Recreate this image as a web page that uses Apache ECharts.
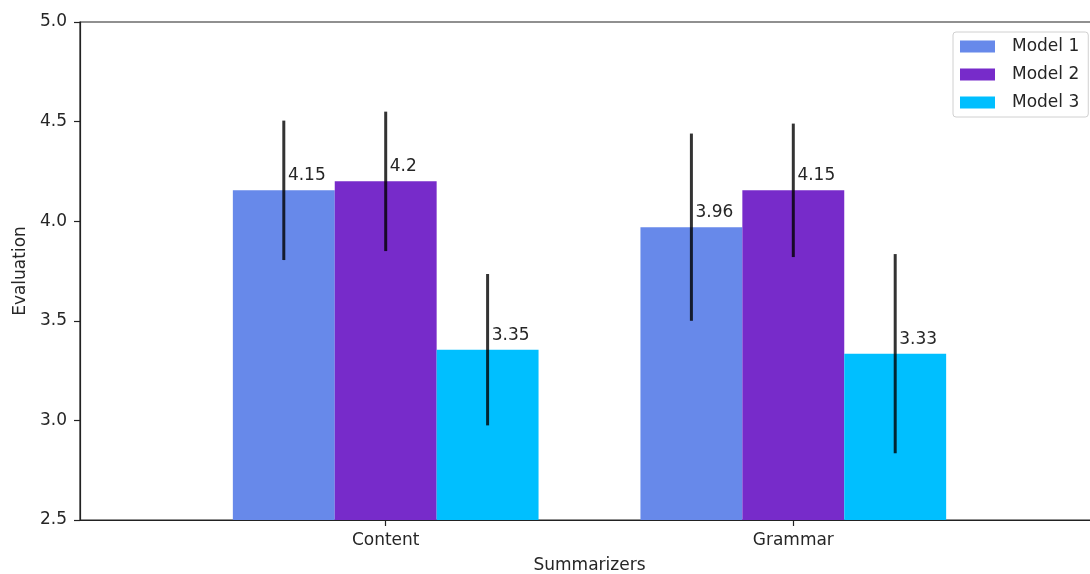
<!DOCTYPE html>
<html>
<head>
<meta charset="utf-8">
<script src="https://cdn.jsdelivr.net/npm/echarts@6/dist/echarts.min.js"></script>
<style>
html,body{margin:0;padding:0;background:#fff;}
#chart{width:1090px;height:574px;}
</style>
</head>
<body>
<div id="chart"></div>
<script>
// ---- data ----
const categories = ['Content', 'Grammar'];
const seriesNames = ['Model 1', 'Model 2', 'Model 3'];
const model1 = [4.155, 3.97];
const model2 = [4.2, 4.155];
const model3 = [3.355, 3.335];
const model1Labels = ['4.15', '3.96'];
const model2Labels = ['4.2', '4.15'];
const model3Labels = ['3.35', '3.33'];
const model1Err = [0.35, 0.47];
const model2Err = [0.35, 0.335];
const model3Err = [0.38, 0.50];
const yTicks = [2.5, 3.0, 3.5, 4.0, 4.5, 5.0];

// ---- styling ----
const colors = ['#6789ea', '#772bca', '#00bfff'];
const offsets = [-0.25, 0, 0.25];
const BAR_W = 0.25;
const Y_MIN = 2.5, Y_MAX = 5.0;
const FONT = 'DejaVu Sans';
const TXT = '#262626';

const values = [model1, model2, model3];
const labels = [model1Labels, model2Labels, model3Labels];
const errs = [model1Err, model2Err, model3Err];

function makeRender(m) {
  return function (params, api) {
    const c = api.value(0);
    const v = api.value(1);
    const e = api.value(2);
    const xc = c + offsets[m];
    const tl = api.coord([xc - BAR_W / 2, v]);
    const br = api.coord([xc + BAR_W / 2, Y_MIN]);
    const top = api.coord([xc, v + e]);
    const bot = api.coord([xc, v - e]);
    const lab = api.coord([xc + 0.01, v + 0.05]);
    return {
      type: 'group',
      children: [
        {
          type: 'rect',
          shape: { x: tl[0], y: tl[1], width: br[0] - tl[0], height: br[1] - tl[1] },
          style: { fill: colors[m] }
        },
        {
          type: 'line',
          shape: { x1: top[0], y1: top[1], x2: bot[0], y2: bot[1] },
          style: { stroke: 'rgba(0,0,0,0.8)', lineWidth: 3 }
        },
        {
          type: 'text',
          style: {
            text: labels[m][params.dataIndex],
            x: lab[0], y: lab[1] + 4,
            fontSize: 17, fontFamily: FONT, fill: TXT,
            align: 'left', verticalAlign: 'bottom'
          }
        }
      ]
    };
  };
}

const series = seriesNames.map((name, m) => ({
  name: name,
  type: 'custom',
  renderItem: makeRender(m),
  itemStyle: { color: colors[m] },
  encode: { x: 0, y: 1 },
  clip: false,
  data: categories.map((c, i) => [i, values[m][i], errs[m][i]])
}));

const chart = echarts.init(document.getElementById('chart'), null, { renderer: 'canvas' });
chart.setOption({
  animation: false,
  backgroundColor: '#fff',
  textStyle: { fontFamily: FONT },
  grid: {
    left: 80, top: 22, right: -9, bottom: 54,
    containLabel: false,
    outerBoundsMode: 'none',
    show: true, borderColor: '#222', borderWidth: 1.2, backgroundColor: 'transparent'
  },
  legend: {
    data: seriesNames,
    orient: 'vertical',
    left: 953, top: 32,
    icon: 'rect',
    itemWidth: 35, itemHeight: 12,
    itemGap: 11,
    padding: [6, 9, 6, 7],
    backgroundColor: '#fff',
    borderColor: '#d0d0d0', borderWidth: 1, borderRadius: 3,
    textStyle: { fontSize: 17, fontFamily: FONT, color: TXT, padding: [0, 0, 0, 12] }
  },
  xAxis: {
    type: 'value',
    min: -0.75, max: 1.75,
    name: 'Summarizers',
    nameLocation: 'middle',
    nameGap: 37,
    nameTextStyle: { fontSize: 17, fontFamily: FONT, color: TXT },
    splitLine: { show: false },
    axisLine: { show: true, onZero: false, lineStyle: { color: '#222', width: 1.2 } },
    axisTick: { show: true, length: 6, customValues: [0, 1], lineStyle: { color: '#222', width: 1.2 } },
    axisLabel: {
      customValues: [0, 1],
      margin: 12,
      fontSize: 17, fontFamily: FONT, color: TXT,
      formatter: v => categories[Math.round(v)]
    }
  },
  yAxis: {
    type: 'value',
    min: Y_MIN, max: Y_MAX, interval: 0.5,
    name: 'Evaluation',
    nameLocation: 'middle',
    nameGap: 50,
    nameRotate: 90,
    nameTextStyle: { fontSize: 17, fontFamily: FONT, color: TXT },
    splitLine: { show: false },
    axisLine: { show: true, onZero: false, lineStyle: { color: '#222', width: 1.2 } },
    axisTick: { show: true, length: 6, customValues: yTicks, lineStyle: { color: '#222', width: 1.2 } },
    axisLabel: {
      customValues: yTicks,
      margin: 13,
      fontSize: 17, fontFamily: FONT, color: TXT,
      formatter: v => v.toFixed(1)
    }
  },
  series: series
});
</script>
</body>
</html>
